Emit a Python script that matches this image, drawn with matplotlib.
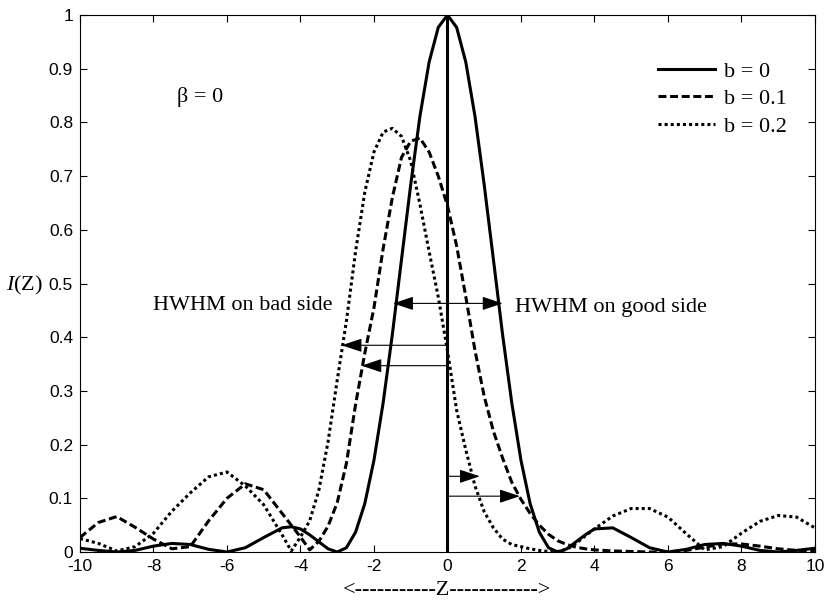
import matplotlib
matplotlib.use('Agg')
import matplotlib.pyplot as plt

# sample positions along Z
z = [-10, -9.5, -9, -8.5, -8, -7.5, -7, -6.5, -6, -5.5, -5, -4.5, -4.25,
     -4, -3.75, -3.5, -3.25, -3, -2.75, -2.5, -2.25, -2, -1.75, -1.5, -1.25,
     -1, -0.75, -0.5, -0.25, 0, 0.25, 0.5, 0.75, 1, 1.25, 1.5, 1.75,
     2, 2.25, 2.5, 2.75, 3, 3.25, 3.5, 3.75, 4,
     4.5, 5, 5.5, 6, 6.5, 7, 7.5, 8, 8.5, 9, 9.5, 10]

# b = 0
i_b0 = [0.007, 0.003, 0.0, 0.003, 0.011, 0.016, 0.014, 0.005, 0.0, 0.008, 0.027, 0.045, 0.047,
        0.043, 0.032, 0.019, 0.006, 0.0, 0.008, 0.037, 0.090, 0.171, 0.278, 0.405, 0.545,
        0.684, 0.811, 0.912, 0.977, 1.0, 0.977, 0.912, 0.811, 0.684, 0.545, 0.405, 0.278,
        0.171, 0.090, 0.037, 0.008, 0.0, 0.006, 0.019, 0.032, 0.043,
        0.045, 0.027, 0.008, 0.0, 0.005, 0.014, 0.016, 0.011, 0.003, 0.0, 0.003, 0.007]

# b = 0.1
i_b1 = [0.027, 0.055, 0.066, 0.046, 0.024, 0.006, 0.010, 0.058, 0.100, 0.127, 0.116, 0.072, 0.050,
        0.028, 0.004, 0.020, 0.048, 0.092, 0.165, 0.275, 0.370, 0.455, 0.565, 0.660, 0.735,
        0.765, 0.771, 0.745, 0.700, 0.645, 0.570, 0.475, 0.375, 0.290, 0.225, 0.175, 0.130,
        0.098, 0.072, 0.050, 0.033, 0.021, 0.014, 0.009, 0.006, 0.004,
        0.002, 0.001, 0.0, 0.0, 0.003, 0.009, 0.015, 0.015, 0.011, 0.006, 0.003, 0.002]

# b = 0.2
i_b2 = [0.025, 0.016, 0.002, 0.010, 0.035, 0.076, 0.110, 0.140, 0.149, 0.123, 0.088, 0.032, 0.002,
        0.028, 0.058, 0.115, 0.205, 0.320, 0.430, 0.560, 0.670, 0.745, 0.782, 0.789, 0.774,
        0.728, 0.648, 0.560, 0.475, 0.375, 0.264, 0.190, 0.123, 0.075, 0.045, 0.024, 0.014,
        0.010, 0.006, 0.003, 0.001, 0.001, 0.005, 0.016, 0.030, 0.043,
        0.067, 0.081, 0.081, 0.065, 0.034, 0.004, 0.010, 0.035, 0.057, 0.068, 0.065, 0.045]

labels = ['b = 0', 'b = 0.1', 'b = 0.2']

# HWHM arrows: height, from, to
arrow_y = [0.385, 0.347, 0.141, 0.104]
arrow_from = [0, 0, 0, 0]
arrow_to = [-2.88, -2.34, 0.88, 1.97]
hw_y = 0.463
hw_left = -1.48
hw_right = 1.50

plt.rcParams['axes.unicode_minus'] = False
plt.rcParams['mathtext.fontset'] = 'custom'
plt.rcParams['mathtext.it'] = 'Liberation Serif:italic'
plt.rcParams['mathtext.rm'] = 'Liberation Serif'

serif = 'Liberation Serif'

fig = plt.figure(figsize=(8.29, 6.01), dpi=100)
ax = fig.add_axes([0.0965, 0.0815, 0.8865, 0.8935])

lw = 2.2
ax.plot(z, i_b0, color='black', lw=lw, label=labels[0])
ax.plot(z, i_b1, color='black', lw=lw, ls=(0, (2.6, 1.2)), label=labels[1])
ax.plot(z, i_b2, color='black', lw=lw, ls=(0, (1, 1)), dash_capstyle='butt', label=labels[2])
ax.plot([0, 0], [0, 1], color='black', lw=lw)

aprops = dict(arrowstyle='-|>,head_length=0.9,head_width=0.3', color='black', lw=0.8,
              shrinkA=0, shrinkB=0, mutation_scale=14)
for y, x0, x1 in zip(arrow_y, arrow_from, arrow_to):
    ax.annotate('', xy=(x1, y), xytext=(x0, y), arrowprops=aprops)
aprops2 = dict(aprops)
aprops2['arrowstyle'] = '<|-|>,head_length=0.9,head_width=0.3'
ax.annotate('', xy=(hw_right, hw_y), xytext=(hw_left, hw_y), arrowprops=aprops2)

ax.text(-8.01, 0.46, 'HWHM on bad side', family=serif, fontsize=16, ha='left', va='center')
ax.text(1.84, 0.455, 'HWHM on good side', family=serif, fontsize=16, ha='left', va='center')
ax.text(-7.36, 0.847, 'β = 0', family=serif, fontsize=16, ha='left', va='center')

ax.set_xlim(-10, 10)
ax.set_ylim(0, 1)
ax.set_xticks([-10, -8, -6, -4, -2, 0, 2, 4, 6, 8, 10])
ax.set_yticks([0, 0.1, 0.2, 0.3, 0.4, 0.5, 0.6, 0.7, 0.8, 0.9, 1])
ax.set_yticklabels(['0', '0.1', '0.2', '0.3', '0.4', '0.5', '0.6', '0.7', '0.8', '0.9', '1'])
ax.tick_params(direction='in', top=True, right=True, length=5, width=0.8, pad=5,
               labelsize=12.5)
for t in ax.get_xticklabels() + ax.get_yticklabels():
    t.set_family('Liberation Sans')
for s in ax.spines.values():
    s.set_linewidth(0.8)

ax.set_xlabel('<' + '-' * 11 + 'Z' + '-' * 12 + '>', family=serif, fontsize=16, va='center')
ax.xaxis.set_label_coords(0.5, -0.071)
ax.set_ylabel(r'$I$(Z)', family=serif, fontsize=16, rotation=0, ha='right', va='center')
ax.yaxis.set_label_coords(-0.05, 0.497)

leg = ax.legend(loc='upper left', bbox_to_anchor=(0.786, 0.914), frameon=False,
                prop={'family': serif, 'size': 16}, handlelength=2.6, handletextpad=0.4,
                labelspacing=0.31, borderpad=0, borderaxespad=0)

fig.savefig('out.png', dpi=100)
